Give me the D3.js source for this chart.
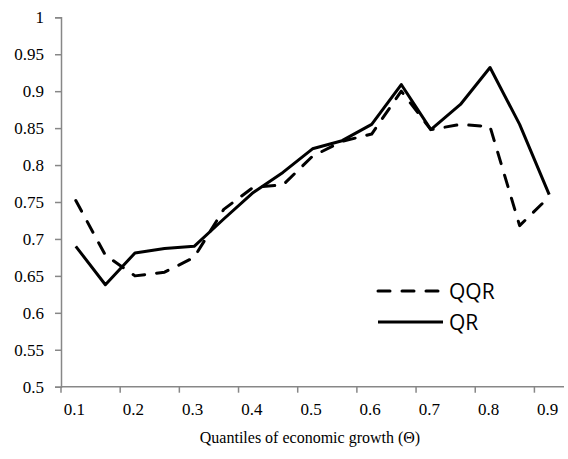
<!DOCTYPE html>
<html>
<head>
<meta charset="utf-8">
<script src="https://cdn.jsdelivr.net/npm/d3@7"></script>
<style>
  body { margin: 0; background: #fff; }
  svg { display: block; }
</style>
</head>
<body>
<svg class="chart"></svg>
<script>
// Chart values
var quantiles = ["0.1","0.15","0.2","0.25","0.3","0.35","0.4","0.45","0.5","0.55","0.6","0.65","0.7","0.75","0.8","0.85","0.9"];
var qqrValues = [0.752,0.678,0.650,0.655,0.675,0.740,0.770,0.773,0.812,0.832,0.842,0.900,0.848,0.855,0.852,0.718,0.757];
var qrValues  = [0.690,0.638,0.681,0.687,0.690,0.727,0.763,0.790,0.822,0.833,0.855,0.909,0.848,0.882,0.932,0.855,0.760];
var yTicks = [0.5,0.55,0.6,0.65,0.7,0.75,0.8,0.85,0.9,0.95,1];
var xLabels = ["0.1","0.2","0.3","0.4","0.5","0.6","0.7","0.8","0.9"];

var width = 568, height = 459;
var plotLeft = 61, plotRight = 564, plotTop = 17.3, plotBottom = 386.7;

var svg = d3.select(".chart")
  .attr("width", width)
  .attr("height", height);

var x = d3.scaleBand()
  .domain(quantiles)
  .range([plotLeft, plotRight])
  .padding(0);

var y = d3.scaleLinear()
  .domain([0.5, 1])
  .range([plotBottom, plotTop]);

var axisColor = "#878787";
var serif = "'Liberation Serif', 'Times New Roman', serif";

// Y axis
var yAxis = svg.append("g")
  .attr("transform", "translate(" + plotLeft + ",0)")
  .attr("font-family", serif)
  .call(d3.axisLeft(y).tickValues(yTicks).tickSize(6).tickPadding(11)
    .tickFormat(function (d) { return String(+d.toFixed(2)); }));
yAxis.attr("font-family", serif);
yAxis.select(".domain").attr("stroke", axisColor).attr("stroke-width", 1.5);
yAxis.selectAll(".tick line").attr("stroke", axisColor).attr("stroke-width", 1.5);
yAxis.selectAll(".tick text")
  .attr("fill", "#000")
  .style("font-family", serif)
  .style("font-size", "17px");

// X axis: line, ticks between every two categories, labels on every other category
svg.append("line")
  .attr("x1", plotLeft).attr("x2", plotRight)
  .attr("y1", plotBottom).attr("y2", plotBottom)
  .attr("stroke", axisColor).attr("stroke-width", 1.5);

var tickCats = quantiles.filter(function (d, i) { return i % 2 === 0; });
svg.selectAll(".xtick")
  .data(tickCats)
  .enter()
  .append("line")
  .attr("class", "xtick")
  .attr("x1", function (d) { return x(d); })
  .attr("x2", function (d) { return x(d); })
  .attr("y1", plotBottom)
  .attr("y2", plotBottom + 6)
  .attr("stroke", axisColor).attr("stroke-width", 1.5);

svg.selectAll(".xlabel")
  .data(xLabels)
  .enter()
  .append("text")
  .attr("class", "xlabel")
  .attr("x", function (d) { return x(d) + x.bandwidth() / 2 - 1.5; })
  .attr("y", 415)
  .attr("text-anchor", "middle")
  .style("font-family", serif)
  .style("font-size", "17px")
  .text(function (d) { return d; });

svg.append("text")
  .attr("x", 310)
  .attr("y", 443)
  .attr("text-anchor", "middle")
  .style("font-family", serif)
  .style("font-size", "16px")
  .text("Quantiles of economic growth (\u0398)");

// Lines
var line = function (values) {
  return d3.line()
    .x(function (d, i) { return x(quantiles[i]) + x.bandwidth() / 2; })
    .y(function (d) { return y(d); })(values);
};

svg.append("path")
  .attr("d", line(qqrValues))
  .attr("fill", "none")
  .attr("stroke", "#000")
  .attr("stroke-width", 3)
  .attr("stroke-linecap", "round")
  .attr("stroke-linejoin", "round")
  .attr("stroke-dasharray", "12,12");

svg.append("path")
  .attr("d", line(qrValues))
  .attr("fill", "none")
  .attr("stroke", "#000")
  .attr("stroke-width", 3)
  .attr("stroke-linejoin", "round");

// Legend
var legend = [
  { name: "QQR", dash: "12,12", y: 291 },
  { name: "QR", dash: null, y: 322 }
];
var lg = svg.selectAll(".legend")
  .data(legend)
  .enter()
  .append("g")
  .attr("class", "legend");

lg.append("line")
  .attr("x1", 378).attr("x2", 443)
  .attr("y1", function (d) { return d.y; })
  .attr("y2", function (d) { return d.y; })
  .attr("stroke", "#000")
  .attr("stroke-width", 3)
  .attr("stroke-linecap", function (d) { return d.dash ? "round" : "butt"; })
  .attr("stroke-dasharray", function (d) { return d.dash; });

lg.append("text")
  .attr("x", 449)
  .attr("y", function (d) { return d.y + 7.5; })
  .style("font-family", "'Open Sans', sans-serif")
  .style("font-size", "21px")
  .text(function (d) { return d.name; });
</script>
</body>
</html>
